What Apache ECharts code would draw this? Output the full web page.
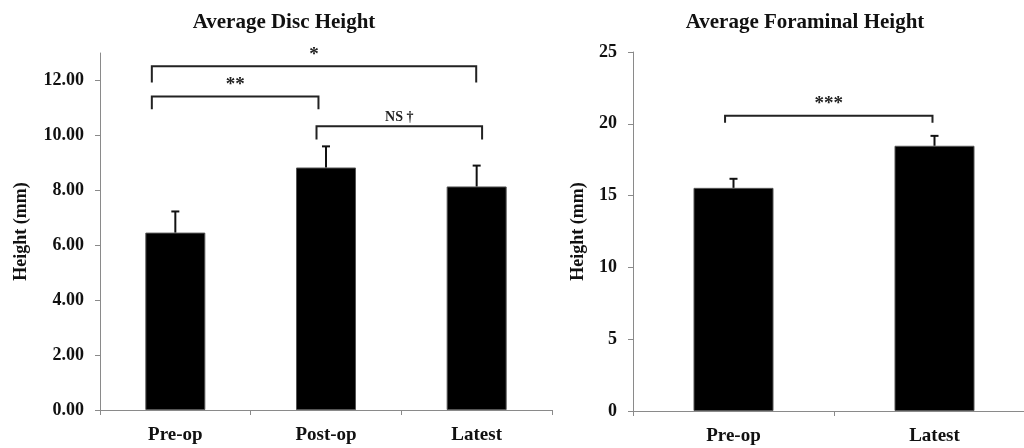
<!DOCTYPE html>
<html>
<head>
<meta charset="utf-8">
<script src="https://cdn.jsdelivr.net/npm/echarts@6/dist/echarts.min.js"></script>
<style>
html,body{margin:0;padding:0;background:#fff;overflow:hidden;}
#chart{width:1040px;height:448px;}
</style>
</head>
<body>
<div id="chart"></div>
<script>
// ---- Data ----
const discCategories = ['Pre-op', 'Post-op', 'Latest'];
const discMeans = [6.46, 8.83, 8.14];
const discErrTops = [7.23, 9.60, 8.90];
const discTicks = [0, 2, 4, 6, 8, 10, 12];
// brackets: [fromX, toX, barY, legY, label] on a 0..n position scale
const discBrackets = [
  [0.344, 2.497, 12.52, 11.93, '*'],
  [0.344, 1.450, 11.42, 10.95, '**'],
  [1.437, 2.536, 10.33, 9.85, 'NS \u2020']
];

const foramCategories = ['Pre-op', 'Latest'];
const foramMeans = [15.54, 18.47];
const foramErrTops = [16.17, 19.16];
const foramTicks = [0, 5, 10, 15, 20, 25];
const foramBrackets = [
  [0.458, 1.490, 20.56, 20.07, '***']
];

// ---- Styling helpers ----
const FONT = '"Liberation Serif", "Times New Roman", serif';
const AXIS_COLOR = '#8a8a8a';

function errorSeries(xIdx, yIdx, means, tops) {
  return {
    type: 'custom',
    xAxisIndex: xIdx, yAxisIndex: yIdx,
    silent: true, z: 5,
    data: means.map((m, i) => [i, m, tops[i]]),
    renderItem: function (params, api) {
      const base = api.coord([api.value(0), api.value(1)]);
      const top = api.coord([api.value(0), api.value(2)]);
      const half = 4;
      return {
        type: 'group',
        children: [
          { type: 'line', shape: { x1: base[0], y1: base[1], x2: top[0], y2: top[1] },
            style: { stroke: '#111', lineWidth: 2 } },
          { type: 'line', shape: { x1: top[0] - half, y1: top[1], x2: top[0] + half, y2: top[1] },
            style: { stroke: '#111', lineWidth: 2 } }
        ]
      };
    }
  };
}

function bracketSeries(xIdx, yIdx, brackets) {
  return {
    type: 'custom',
    xAxisIndex: xIdx, yAxisIndex: yIdx,
    silent: true, z: 6,
    data: brackets.map(b => [b[0], b[1], b[2], b[3]]),
    renderItem: function (params, api) {
      const b = brackets[params.dataIndex];
      const p1 = api.coord([b[0], b[3]]);
      const p2 = api.coord([b[0], b[2]]);
      const p3 = api.coord([b[1], b[2]]);
      const p4 = api.coord([b[1], b[3]]);
      const isStars = b[4].indexOf('*') === 0;
      const fs = isStars ? 19 : 14;
      const gap = isStars ? 2 : 2;
      return {
        type: 'group',
        children: [
          { type: 'polyline', shape: { points: [p1, p2, p3, p4] },
            style: { stroke: '#222', lineWidth: 2, fill: null } },
          { type: 'text', x: (p2[0] + p3[0]) / 2, y: p2[1] - gap,
            style: { text: b[4], fill: '#222', font: 'bold ' + fs + 'px ' + FONT,
                     textAlign: 'center', textVerticalAlign: 'bottom' } }
        ]
      };
    }
  };
}

function catAxis(gridIndex, cats) {
  return {
    type: 'category', gridIndex: gridIndex, data: cats,
    axisLine: { lineStyle: { color: AXIS_COLOR, width: 1 } },
    axisTick: { show: true, alignWithLabel: false, length: 5, lineStyle: { color: AXIS_COLOR } },
    axisLabel: { color: '#111', fontFamily: FONT, fontWeight: 'bold', fontSize: 19, margin: 16 }
  };
}

function posAxis(gridIndex, n) {
  return { type: 'value', gridIndex: gridIndex, min: 0, max: n, show: false };
}

const chart = echarts.init(document.getElementById('chart'));
chart.setOption({
  backgroundColor: '#fff',
  animation: false,
  title: [
    { text: 'Average Disc Height', left: 279, top: 7, textAlign: 'center',
      textStyle: { fontFamily: FONT, fontWeight: 'bold', fontSize: 21, color: '#111' } },
    { text: 'Average Foraminal Height', left: 800, top: 7, textAlign: 'center',
      textStyle: { fontFamily: FONT, fontWeight: 'bold', fontSize: 21, color: '#111' } }
  ],
  grid: [
    { left: 100, top: 53, right: 488, bottom: 38 },
    { left: 633, top: 52, right: 5, bottom: 37 }
  ],
  xAxis: [
    catAxis(0, discCategories),
    posAxis(0, discCategories.length),
    catAxis(1, foramCategories),
    posAxis(1, foramCategories.length)
  ],
  yAxis: [
    {
      type: 'value', gridIndex: 0, min: 0, max: 13, interval: 2,
      name: 'Height (mm)', nameLocation: 'middle', nameGap: 70,
      nameTextStyle: { fontFamily: FONT, fontWeight: 'bold', fontSize: 18, color: '#111' },
      axisLine: { show: true, lineStyle: { color: AXIS_COLOR, width: 1 } },
      axisTick: { show: true, length: 5, customValues: discTicks, lineStyle: { color: AXIS_COLOR } },
      axisLabel: { customValues: discTicks, formatter: v => v.toFixed(2), color: '#111',
                   fontFamily: FONT, fontWeight: 'bold', fontSize: 18, margin: 16 },
      splitLine: { show: false }
    },
    {
      type: 'value', gridIndex: 1, min: 0, max: 25, interval: 5,
      name: 'Height (mm)', nameLocation: 'middle', nameGap: 46,
      nameTextStyle: { fontFamily: FONT, fontWeight: 'bold', fontSize: 18, color: '#111' },
      axisLine: { show: true, lineStyle: { color: AXIS_COLOR, width: 1 } },
      axisTick: { show: true, length: 5, customValues: foramTicks, lineStyle: { color: AXIS_COLOR } },
      axisLabel: { customValues: foramTicks, color: '#111',
                   fontFamily: FONT, fontWeight: 'bold', fontSize: 18, margin: 16 },
      splitLine: { show: false }
    }
  ],
  series: [
    { type: 'bar', xAxisIndex: 0, yAxisIndex: 0, data: discMeans, barWidth: 60,
      itemStyle: { color: '#000', borderColor: '#555', borderWidth: 1 } },
    errorSeries(0, 0, discMeans, discErrTops),
    bracketSeries(1, 0, discBrackets),
    { type: 'bar', xAxisIndex: 2, yAxisIndex: 1, data: foramMeans, barWidth: 80,
      itemStyle: { color: '#000', borderColor: '#555', borderWidth: 1 } },
    errorSeries(2, 1, foramMeans, foramErrTops),
    bracketSeries(3, 1, foramBrackets)
  ]
});
</script>
</body>
</html>
